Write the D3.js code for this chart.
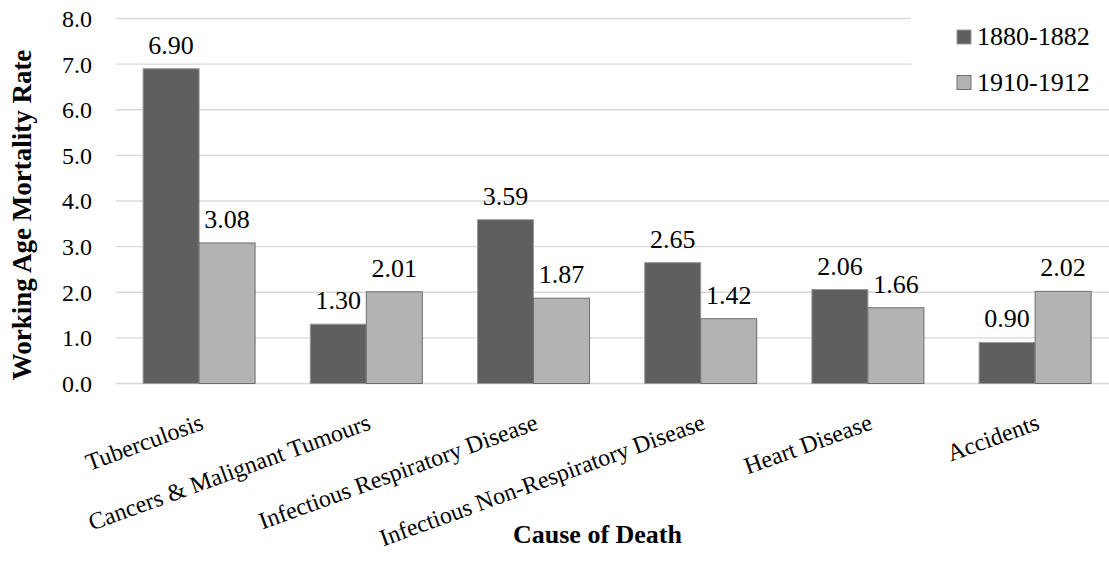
<!DOCTYPE html>
<html>

<head>
    <meta charset="UTF-8">
    <title>Working Age Mortality Rate by Cause of Death</title>
    <style>
        body {
            margin: 0;
            background: #fff;
        }
    </style>
</head>

<body>
    <script src="https://d3js.org/d3.v7.min.js"></script>
    <script>

        // data
        let categories = ["Tuberculosis", "Cancers & Malignant Tumours", "Infectious Respiratory Disease",
            "Infectious Non-Respiratory Disease", "Heart Disease", "Accidents"];
        let seriesNames = ["1880-1882", "1910-1912"];
        let values1880 = [6.90, 1.30, 3.59, 2.65, 2.06, 0.90];
        let values1910 = [3.08, 2.01, 1.87, 1.42, 1.66, 2.02];
        let yTicks = [0, 1, 2, 3, 4, 5, 6, 7, 8];

        let fills = ["#5f5f5f", "#b3b3b3"];
        let strokes = ["#9a9a9a", "#6e6e6e"];
        let serif = "Liberation Serif";

        // regular serif only picks up at small sizes here, so draw at 20px and scale up
        let base = 20;
        let sc = px => `scale(${px / base})`;

        let W = 1109, H = 562;

        let s = d3.select('body').append('svg')
            .attr('width', W)
            .attr('height', H)
            .attr('font-family', serif);

        // 1. scales
        let y = d3.scaleLinear().domain([0, 8]).range([383.5, 18.5]);
        let x = d3.scaleBand().domain(categories)
            .range([115.5, 1118.7])
            .paddingInner(0.33)
            .paddingOuter(0.165);
        let xs = d3.scaleBand().domain(seriesNames).range([0, x.bandwidth()]);

        let rows = categories.map((c, i) => ({ cat: c, vals: [values1880[i], values1910[i]] }));

        // 2. gridlines + y labels
        s.selectAll('.grid')
            .data(yTicks)
            .enter().append('line')
            .attr('class', 'grid')
            .attr('x1', 116)
            .attr('x2', W)
            .attr('y1', d => y(d))
            .attr('y2', d => y(d))
            .attr('stroke', '#d9d9d9')
            .attr('stroke-width', 1.3);

        s.selectAll('.ytick')
            .data(yTicks)
            .enter().append('text')
            .attr('class', 'ytick')
            .attr('transform', d => `translate(92,${y(d)}) ${sc(24)}`)
            .attr('dy', '0.35em')
            .attr('text-anchor', 'end')
            .attr('font-family', serif)
            .attr('font-size', base)
            .text(d => d.toFixed(1));

        // 3. bars
        let g = s.selectAll('.cat')
            .data(rows)
            .enter().append('g')
            .attr('class', 'cat')
            .attr('transform', d => `translate(${x(d.cat)},0)`);

        let bars = g.selectAll('.bar')
            .data(d => d.vals.map((v, j) => ({ v: v, j: j, name: seriesNames[j] })))
            .enter();

        bars.append('rect')
            .attr('class', 'bar')
            .attr('x', d => xs(d.name))
            .attr('y', d => y(d.v))
            .attr('width', xs.bandwidth())
            .attr('height', d => y(0) - y(d.v))
            .attr('fill', d => fills[d.j])
            .attr('stroke', d => strokes[d.j])
            .attr('stroke-width', 1);

        bars.append('text')
            .attr('transform', d => `translate(${xs(d.name) + xs.bandwidth() / 2},${y(d.v) - 15}) ${sc(26)}`)
            .attr('text-anchor', 'middle')
            .attr('font-family', serif)
            .attr('font-size', base)
            .text(d => d.v.toFixed(2));

        // 4. category labels
        s.selectAll('.xlab')
            .data(categories)
            .enter().append('text')
            .attr('class', 'xlab')
            .attr('transform', d => `translate(${x(d) + x.bandwidth() / 2},413) rotate(-20) ${sc(24)}`)
            .attr('dy', '0.7em')
            .attr('text-anchor', 'end')
            .attr('font-family', serif)
            .attr('font-size', base)
            .text(d => d);

        // 5. axis titles
        s.append('text')
            .attr('x', 597.5)
            .attr('y', 543)
            .attr('text-anchor', 'middle')
            .attr('font-family', serif)
            .attr('font-size', 26)
            .attr('font-weight', 'bold')
            .text('Cause of Death');

        s.append('text')
            .attr('transform', 'translate(31,215) rotate(-90)')
            .attr('text-anchor', 'middle')
            .attr('font-family', serif)
            .attr('font-size', 27)
            .attr('font-weight', 'bold')
            .text('Working Age Mortality Rate');

        // 6. legend
        let lg = s.append('g').attr('class', 'legend');
        lg.append('rect')
            .attr('x', 911).attr('y', 0)
            .attr('width', W - 911).attr('height', 100)
            .attr('fill', '#fff');

        let li = lg.selectAll('.li')
            .data(seriesNames)
            .enter().append('g')
            .attr('class', 'li')
            .attr('transform', (d, i) => `translate(957,${30 + i * 45.5})`);

        li.append('rect')
            .attr('width', 14).attr('height', 14)
            .attr('fill', (d, i) => fills[i])
            .attr('stroke', (d, i) => strokes[i])
            .attr('stroke-width', 1);

        li.append('text')
            .attr('transform', `translate(20,15) ${sc(26)}`)
            .attr('font-family', serif)
            .attr('font-size', base)
            .text(d => d);
    </script>
</body>

</html>
